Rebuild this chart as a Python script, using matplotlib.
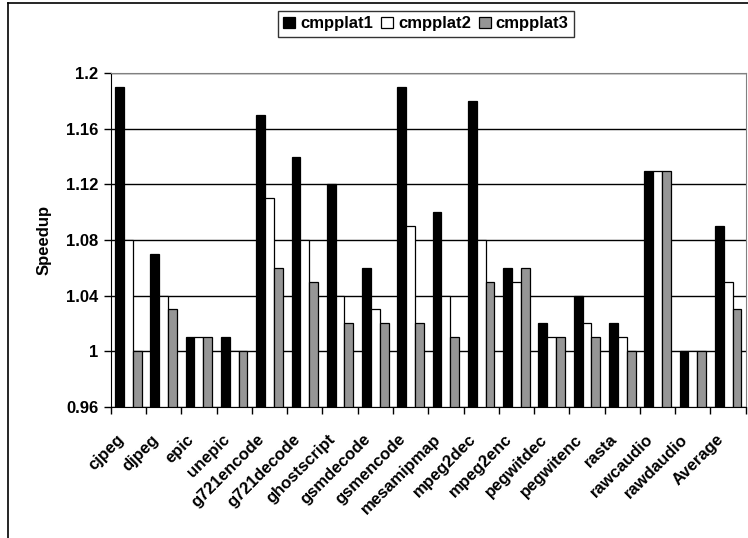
import matplotlib.pyplot as plt
import numpy as np
from matplotlib.lines import Line2D

plt.rcParams['font.family'] = ['Liberation Sans', 'DejaVu Sans']
plt.rcParams['font.weight'] = 'bold'

# data
benchmarks = ['cjpeg', 'djpeg', 'epic', 'unepic', 'g721encode', 'g721decode',
              'ghostscript', 'gsmdecode', 'gsmencode', 'mesamipmap', 'mpeg2dec',
              'mpeg2enc', 'pegwitdec', 'pegwitenc', 'rasta', 'rawcaudio',
              'rawdaudio', 'Average']
cmpplat1 = [1.19, 1.07, 1.01, 1.01, 1.17, 1.14, 1.12, 1.06, 1.19, 1.10, 1.18,
            1.06, 1.02, 1.04, 1.02, 1.13, 1.00, 1.09]
cmpplat2 = [1.08, 1.04, 1.01, 1.00, 1.11, 1.08, 1.04, 1.03, 1.09, 1.04, 1.08,
            1.05, 1.01, 1.02, 1.01, 1.13, 1.00, 1.05]
cmpplat3 = [1.00, 1.03, 1.01, 1.00, 1.06, 1.05, 1.02, 1.02, 1.02, 1.01, 1.05,
            1.06, 1.01, 1.01, 1.00, 1.13, 1.00, 1.03]
yticks = [0.96, 1, 1.04, 1.08, 1.12, 1.16, 1.2]
ytick_labels = ['0.96', '1', '1.04', '1.08', '1.12', '1.16', '1.2']

base = 0.96
w = 0.25
x = np.arange(len(benchmarks))
fs = 12

fig = plt.figure(figsize=(7.48, 5.38), dpi=100)
ax = fig.add_axes([0.148, 0.244, 0.849, 0.6197])

series = [(cmpplat1, 'black', 'cmpplat1'),
          (cmpplat2, 'white', 'cmpplat2'),
          (cmpplat3, '#969696', 'cmpplat3')]
for i, (vals, col, lab) in enumerate(series):
    h = np.array(vals) - base
    ax.bar(x + (i - 1) * w, h, w, bottom=base, color=col,
           edgecolor='black', linewidth=0.9, label=lab, zorder=3)

ax.set_ylim(0.96, 1.2)
ax.set_xlim(-0.5, len(benchmarks) - 0.5)
ax.set_yticks(yticks)
ax.set_yticklabels(ytick_labels, fontsize=fs, fontweight='bold')
ax.set_axisbelow(True)
ax.grid(axis='y', color='black', linewidth=1)

# labels are anchored a bit left of the group centre, like the original
ax.set_xticks(x - 0.35)
ax.set_xticklabels(benchmarks, rotation=45, ha='right', va='top',
                   rotation_mode='anchor', fontsize=fs, fontweight='bold')
ax.tick_params(axis='x', which='major', length=0, pad=18)
# category ticks sit between groups
ax.set_xticks(np.arange(len(benchmarks) + 1) - 0.5, minor=True)
ax.tick_params(axis='x', which='minor', length=5, direction='out', width=1)
ax.tick_params(axis='y', length=5, direction='out', width=1, pad=4)

ax.spines['left'].set_color('black')
ax.spines['bottom'].set_color('black')
ax.spines['top'].set_color('#808080')
ax.spines['right'].set_color('#808080')

ax.set_ylabel('Speedup', fontsize=fs, fontweight='bold', labelpad=10)

leg = fig.legend(loc='center', bbox_to_anchor=(0.5695, 0.9554), ncol=3,
                 fontsize=fs, frameon=True, fancybox=False,
                 handlelength=0.7, handleheight=0.7, handletextpad=0.3,
                 columnspacing=0.5, borderpad=0.35)
leg.get_frame().set_edgecolor('black')
leg.get_frame().set_linewidth(1)

# outer chart-area border (cropped on right and bottom)
fig.add_artist(Line2D([8 / 748, 1], [1 - 3 / 538, 1 - 3 / 538],
                      color='black', linewidth=1.2, transform=fig.transFigure))
fig.add_artist(Line2D([8 / 748, 8 / 748], [0, 1 - 3 / 538],
                      color='black', linewidth=1.2, transform=fig.transFigure))

fig.savefig('out.png', dpi=100)
